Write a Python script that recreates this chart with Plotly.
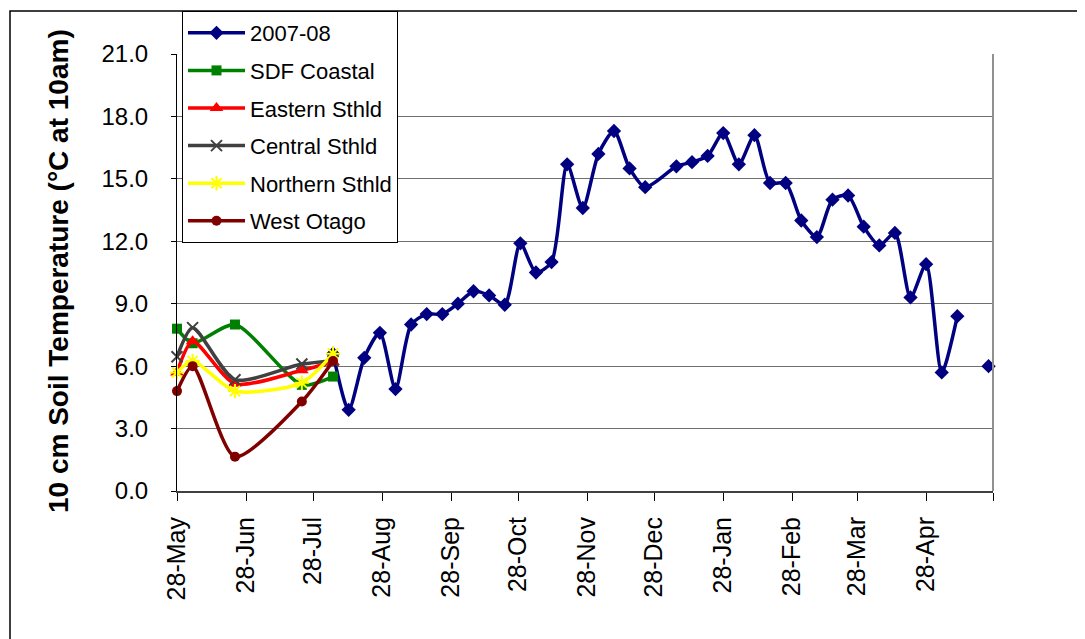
import plotly.graph_objects as go

# ---------------- data ----------------
main_dates = ["2007-08-06", "2007-08-13", "2007-08-20", "2007-08-27", "2007-09-03",
              "2007-09-10", "2007-09-17", "2007-09-24", "2007-10-01", "2007-10-08",
              "2007-10-15", "2007-10-22", "2007-10-29", "2007-11-05", "2007-11-12",
              "2007-11-19", "2007-11-26", "2007-12-03", "2007-12-10", "2007-12-17",
              "2007-12-24", "2008-01-07", "2008-01-14", "2008-01-21", "2008-01-28",
              "2008-02-04", "2008-02-11", "2008-02-18", "2008-02-25", "2008-03-03",
              "2008-03-10", "2008-03-17", "2008-03-24", "2008-03-31", "2008-04-07",
              "2008-04-14", "2008-04-21", "2008-04-28", "2008-05-05", "2008-05-12",
              "2008-05-19", "2008-05-26"]
main_temp = [6.6, 3.9, 6.4, 7.6, 4.9, 8.0, 8.5, 8.5, 9.0, 9.6,
             9.4, 8.95, 11.9, 10.5, 11.0, 15.7, 13.6, 16.2, 17.3, 15.5,
             14.6, 15.6, 15.8, 16.1, 17.2, 15.7, 17.1, 14.8, 14.8, 13.0,
             12.2, 14.0, 14.2, 12.7, 11.8, 12.4, 9.3, 10.9, 5.7, 8.4,
             None, 6.0]

region_dates = ["2007-05-28", "2007-06-04", "2007-06-23", "2007-07-23", "2007-08-06"]
sdf_coastal = [7.8, 7.1, 8.0, 5.1, 5.5]
eastern_sthld = [5.7, 7.2, 5.15, 5.8, 6.2]
central_sthld = [6.45, 7.85, 5.35, 6.1, 6.25]
northern_sthld = [5.7, 6.25, 4.8, 5.2, 6.6]
west_otago = [4.8, 6.0, 1.65, 4.3, 6.25]

tick_dates = ["2007-05-28", "2007-06-28", "2007-07-28", "2007-08-28", "2007-09-28",
              "2007-10-28", "2007-11-28", "2007-12-28", "2008-01-28", "2008-02-28",
              "2008-03-28", "2008-04-28", "2008-05-28"]
tick_labels = ["28-May", "28-Jun", "28-Jul", "28-Aug", "28-Sep", "28-Oct", "28-Nov",
               "28-Dec", "28-Jan", "28-Feb", "28-Mar", "28-Apr", ""]

y_ticks = [0, 3, 6, 9, 12, 15, 18, 21]

# ---------------- figure ----------------
fig = go.Figure()

series = [
    ("2007-08", main_dates, main_temp, "#000080", dict(symbol="diamond", size=11)),
    ("SDF Coastal", region_dates, sdf_coastal, "#008000", dict(symbol="square", size=10)),
    ("Eastern Sthld", region_dates, eastern_sthld, "#FF0000", dict(symbol="triangle-up", size=12)),
    ("Central Sthld", region_dates, central_sthld, "#404040",
     dict(symbol="x-thin", size=11, line=dict(width=2, color="#404040"))),
    ("Northern Sthld", region_dates, northern_sthld, "#FFFF00",
     dict(symbol="asterisk", size=12, line=dict(width=2, color="#FFFF00"))),
    ("West Otago", region_dates, west_otago, "#800000", dict(symbol="circle", size=10)),
]

for name, xs, ys, col, mk in series:
    mk = dict(mk)
    mk.setdefault("color", col)
    fig.add_trace(go.Scatter(
        x=xs, y=ys, name=name, mode="lines+markers",
        line=dict(color=col, width=3.5, shape="spline", smoothing=0.7),
        marker=mk, connectgaps=False, legendgroup=name, cliponaxis=False,
    ))

# page adds an 8px offset; compensate so the plot lands where the reference has it
OFF = 8
L, R, T, B = 177 - OFF, 92 + OFF, 54 - OFF, 148 + OFF
W, H = 1085, 639
pw, ph = W - L - R, H - T - B
bottom = H - B  # fig-y of the x axis


def px_x(x):
    return (x - OFF - L) / pw


def px_y(y):
    return (bottom - (y - OFF)) / ph


fig.update_layout(
    width=W, height=H,
    margin=dict(l=L, r=R, t=T, b=B, autoexpand=False),
    paper_bgcolor="white", plot_bgcolor="white",
    font=dict(family="Arial, Liberation Sans, sans-serif", color="black"),
    showlegend=True,
    legend=dict(
        x=px_x(182), y=px_y(11), xanchor="left", yanchor="top",
        bgcolor="white", bordercolor="black", borderwidth=1,
        font=dict(size=22, family="Arial, Liberation Sans, sans-serif"),
        tracegroupgap=6, itemwidth=57,
    ),
    xaxis=dict(
        type="date", range=["2007-05-28", "2008-05-28"],
        tickmode="array", tickvals=tick_dates, ticktext=tick_labels,
        tickangle=-90, tickfont=dict(size=25),
        ticks="outside", ticklen=8, tickcolor="black", tickwidth=1,
        showline=True, linecolor="#404040", linewidth=2,
        showgrid=False, zeroline=False, ticklabelstandoff=6,
    ),
    yaxis=dict(
        range=[0, 21], tickmode="array", tickvals=y_ticks,
        tickformat=".1f", tickfont=dict(size=24),
        ticks="outside", ticklen=5, tickcolor="black",
        showline=True, linecolor="black", linewidth=1,
        showgrid=True, gridcolor="#707070", gridwidth=1.2,
        zeroline=False, ticklabelstandoff=18,
    ),
    annotations=[dict(
        text="<b>10 cm Soil Temperature (°C at 10am)</b>",
        xref="paper", yref="paper", x=px_x(58), y=px_y(271),
        xanchor="center", yanchor="middle", textangle=-90, showarrow=False,
        font=dict(size=28, family="Arial, Liberation Sans, sans-serif", color="black"),
    )],
    shapes=[
        # right border of plot area
        dict(type="line", xref="paper", yref="paper", x0=1, x1=1, y0=0, y1=1,
             line=dict(color="#909090", width=2)),
        # outer chart frame (extends past the right and bottom edges)
        dict(type="rect", xref="paper", yref="paper",
             x0=px_x(10), x1=px_x(W + 40),
             y0=px_y(H + 40), y1=px_y(11),
             line=dict(color="black", width=1.5), layer="below"),
    ],
)

fig.write_html("out.html")
